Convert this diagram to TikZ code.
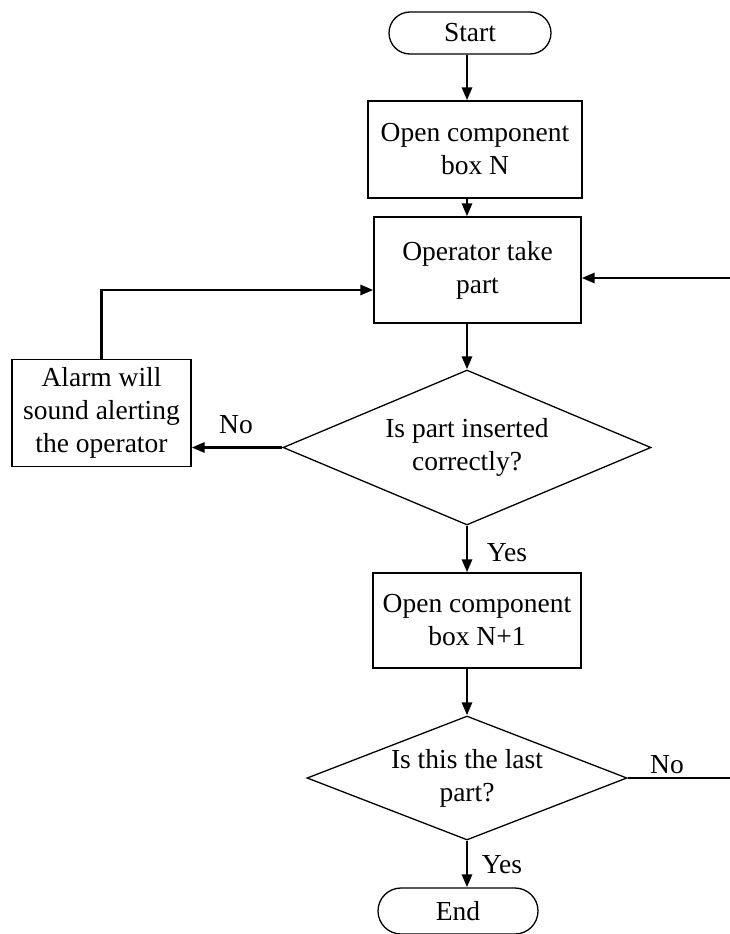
\documentclass[tikz,border=0pt]{standalone}
\usepackage{fontspec}
\setmainfont{Liberation Serif}
\usetikzlibrary{arrows.meta,shapes.geometric}
\begin{document}
\begin{tikzpicture}[x=1pt,y=-1pt,
  every node/.style={font=\fontsize{27.5}{33}\selectfont, align=center, inner sep=0pt},
  thinline/.style={line width=1.3pt},
  arr/.style={line width=2.8pt, -{Triangle[length=13pt,width=10pt]}},
  term/.style={draw, thinline, rounded corners=21pt, minimum width=162pt, minimum height=42pt},
  procbox/.style={draw, thinline, rectangle},
  decision/.style={draw, thinline, diamond}
]
\useasboundingbox (0,0) rectangle (730,934);

\node[term] (start) at (470,33) {Start};
\node[procbox, minimum width=214pt, minimum height=97pt] (box1) at (475,149.5) {Open component\\box N};
\node[procbox, minimum width=207pt, minimum height=106pt] (box2) at (477.5,270) {Operator take\\part};
\node[decision, minimum width=368pt, minimum height=155pt, aspect=2.37] (d1) at (467,447.5) {Is part inserted\\correctly?};
\node[procbox, minimum width=179pt, minimum height=107pt] (alarm) at (101.5,413) {Alarm will\\sound alerting\\the operator};
\node[procbox, minimum width=208pt, minimum height=95pt] (box3) at (477,620.5) {Open component\\box N+1};
\node[decision, minimum width=320pt, minimum height=124pt, aspect=2.58] (d2) at (467,778) {Is this the last\\part?};
\node[term, minimum width=160pt, minimum height=46pt, rounded corners=23pt] (end) at (458,911) {End};

\node (no1) at (236,425) {No};
\node (yes1) at (507,553) {Yes};
\node (no2) at (667,765) {No};
\node (yes2) at (502,865) {Yes};

\coordinate (rin) at (730,278);
\coordinate (rout) at (730,778);

\draw[arr] (start.south -| d1.north) -- (box1.north -| d1.north);
\draw[arr] (box1.south -| d1.north) -- (box2.north -| d1.north);
\draw[arr] (box2.south -| d1.north) -- (d1.north);
\draw[arr] (rin) -- (box2.east |- rin);
\draw[arr] (d1.west) -- (alarm.east |- d1.west);
\draw[arr] (alarm.north) |- ([yshift=-20pt]box2.west);
\draw[arr] (d1.south) -- (box3.north -| d1.south);
\draw[arr] (box3.south -| d2.north) -- (d2.north);
\draw[thinline] (d2.east) -- (rout);
\draw[arr] (d2.south) -- (end.north -| d2.south);
\end{tikzpicture}
\end{document}
